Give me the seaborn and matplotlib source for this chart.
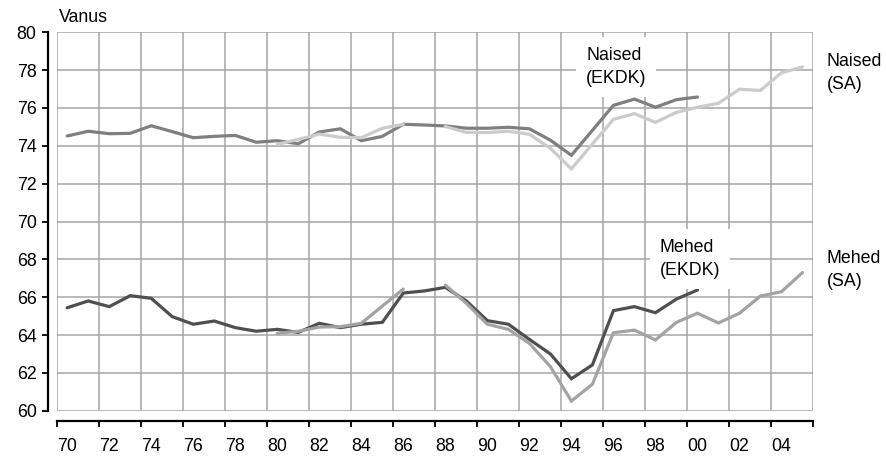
import numpy as np
import pandas as pd
import seaborn as sns
import matplotlib.pyplot as plt

# Life expectancy, women and men, two sources (EKDK 1970-2000, SA 1980-2005)
years_ekdk = list(range(1970, 2001))
years_sa = list(range(1980, 2006))

naised_ekdk = [74.52, 74.77, 74.64, 74.66, 75.06, 74.75, 74.43, 74.50, 74.55, 74.19,
               74.27, 74.11, 74.73, 74.90, 74.27, 74.50, 75.14, 75.10, 75.05, 74.93,
               74.93, 74.98, 74.90, 74.30, 73.50, 74.82, 76.14, 76.47, 76.04, 76.44,
               76.58]
mehed_ekdk = [65.44, 65.80, 65.50, 66.08, 65.94, 64.97, 64.57, 64.74, 64.39, 64.20,
              64.30, 64.14, 64.62, 64.39, 64.57, 64.67, 66.22, 66.33, 66.52, 65.80,
              64.76, 64.57, 63.77, 63.00, 61.69, 62.42, 65.29, 65.50, 65.18, 65.90,
              66.38]
# 1987 is missing in the SA series
naised_sa = [74.08, 74.34, 74.62, 74.45, 74.43, 74.93, 75.14, np.nan, 75.02, 74.71,
             74.70, 74.77, 74.61, 73.87, 72.78, 74.10, 75.40, 75.70, 75.24, 75.77,
             76.04, 76.25, 76.99, 76.93, 77.86, 78.17]
mehed_sa = [64.09, 64.20, 64.42, 64.44, 64.62, 65.53, 66.43, np.nan, 66.64, 65.68,
            64.57, 64.30, 63.56, 62.33, 60.51, 61.40, 64.12, 64.26, 63.74, 64.67,
            65.15, 64.64, 65.15, 66.06, 66.29, 67.30]

sns.set_style("white")
plt.rcParams['font.family'] = ['Liberation Sans', 'DejaVu Sans']
plt.rcParams['text.color'] = 'black'
plt.rcParams['xtick.color'] = 'black'
plt.rcParams['ytick.color'] = 'black'
FS = 12.8

fig = plt.figure(figsize=(8.87, 4.57), dpi=100)
ax = fig.add_axes([56.7 / 887, 1 - 410.7 / 457, (813 - 56.7) / 887, (410.7 - 32.3) / 457])


def draw(years, values, color):
    df = pd.DataFrame({'year': years, 'value': values})
    # split at gaps so the line is broken where data is missing
    grp = df['value'].isna().cumsum()
    for _, part in df.dropna().groupby(grp[df['value'].notna()]):
        sns.lineplot(data=part, x='year', y='value', color=color, lw=2.3, ax=ax,
                     zorder=3, solid_joinstyle='miter')


draw(years_ekdk, mehed_ekdk, '#4f4f4f')
draw(years_sa, mehed_sa, '#a3a3a3')
draw(years_ekdk, naised_ekdk, '#7f7f7f')
draw(years_sa, naised_sa, '#cbcbcb')

ax.set_xlim(1969.5, 2005.5)
ax.set_ylim(60, 80)
ax.set_xlabel('')
ax.set_ylabel('')

# gridlines on year boundaries, labels on every second year
ax.set_xticks(np.arange(1969.5, 2006, 2))
ax.set_xticklabels([])
ax.set_xticks(np.arange(1970, 2005, 2), minor=True)
ax.set_xticklabels([f"{y % 100:02d}" for y in range(1970, 2005, 2)], minor=True)
ax.set_yticks(np.arange(60, 81, 2))
ax.set_yticklabels([str(v) for v in range(60, 81, 2)])

ax.grid(True, which='major', color='#a6a6a6', lw=1.1)
ax.tick_params(axis='x', which='minor', length=0, pad=12, labelsize=FS)
ax.tick_params(axis='x', which='major', direction='out', length=4, width=1.3, bottom=True)
ax.tick_params(axis='y', direction='out', length=4.5, width=1.3, left=True, pad=4,
               labelsize=FS)

for s in ['top', 'right']:
    ax.spines[s].set_visible(False)
ax.spines['left'].set_position(('outward', 6))
ax.spines['bottom'].set_position(('outward', 7.5))
ax.spines['left'].set_linewidth(1.6)
ax.spines['bottom'].set_linewidth(1.6)
ax.spines['left'].set_color('black')
ax.spines['bottom'].set_color('black')
ax.spines['bottom'].set_bounds(1969.5, 2005.5)

box = dict(facecolor='white', edgecolor='none', pad=7)
ax.text(1994.7, 78.17, 'Naised\n(EKDK)', fontsize=FS, ha='left', va='center',
        linespacing=1.45, bbox=box, zorder=4)
ax.text(1998.2, 68.02, 'Mehed\n(EKDK)', fontsize=FS, ha='left', va='center',
        linespacing=1.45, bbox=box, zorder=4)
ax.text(2006.15, 77.87, 'Naised\n(SA)', fontsize=FS, ha='left', va='center',
        linespacing=1.45, clip_on=False)
ax.text(2006.15, 67.44, 'Mehed\n(SA)', fontsize=FS, ha='left', va='center',
        linespacing=1.45, clip_on=False)

fig.text(59 / 887, 1 - 17 / 457, 'Vanus', fontsize=FS, ha='left', va='center')

fig.savefig('out.png', dpi=100)
